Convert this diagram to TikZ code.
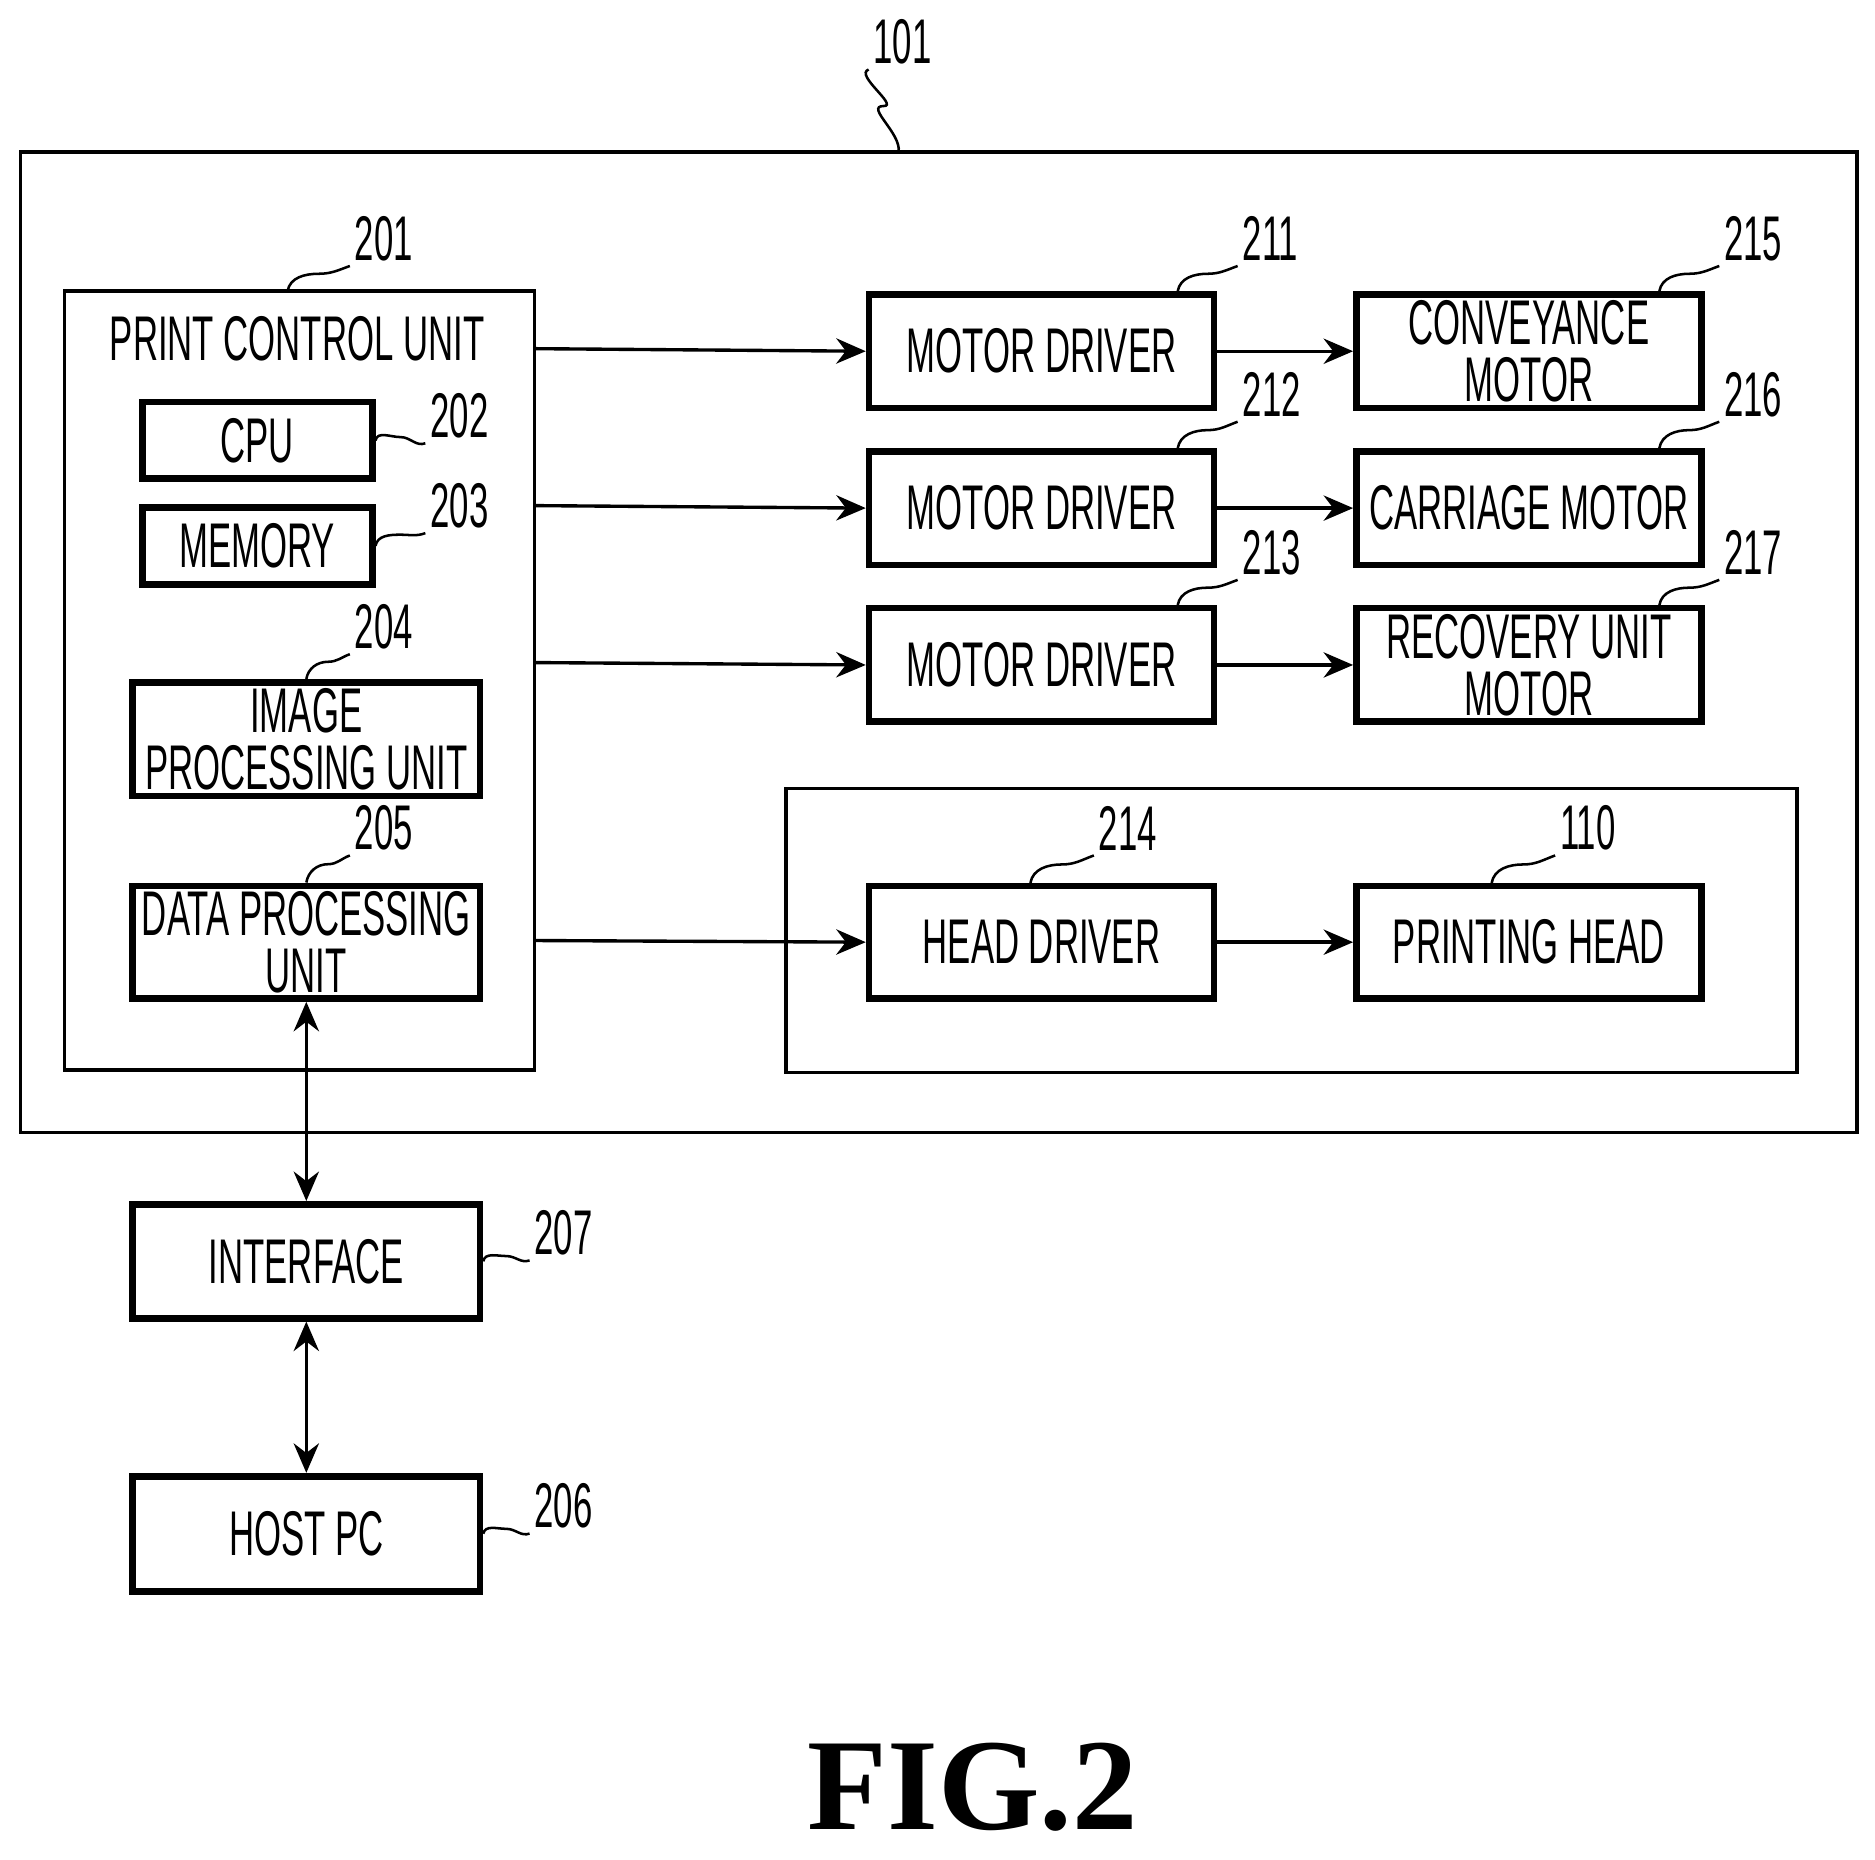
\documentclass[tikz,border=0pt]{standalone}
\usepackage{fontspec}
\setmainfont{Liberation Sans}[FakeStretch=0.55]
\newfontfamily\figfont{Liberation Serif}
\usetikzlibrary{arrows.meta,positioning,calc}
\tikzset{
    unit/.style = {
        draw, line width=1.6pt, align=center, inner sep=0pt,
        font=\fontsize{15}{13.5}\selectfont,
        },
    frame/.style = {
        draw, line width=0.8pt,
        },
    link/.style = {
        -{Stealth[length=7pt,width=6pt]}, line width=0.8pt,
        },
    both/.style = {
        {Stealth[length=7pt,width=6pt]}-{Stealth[length=7pt,width=6pt]}, line width=0.8pt,
        },
    refnum/.style = {
        font=\fontsize{15}{15}\selectfont, anchor=south west, inner sep=1pt,
        },
}
% box from upper-left corner and size, in pixels of the reference
\newcommand{\unitbox}[6]{%
    \node [unit, minimum width=#4*0.01cm, minimum height=#5*0.01cm, anchor=north west]
        (#1) at (#2*0.01,-#3*0.01) {#6};}
% wavy leader from a point to a reference number
\newcommand{\leader}[3]{%
    \coordinate (a#3) at #1;
    \node [refnum] (n#3) at #2 {#3};
    \draw [line width=0.6pt] (a#3) to[out=80,in=180] ($(a#3)!0.5!(n#3.south west)+(0,0.04)$)
        to[out=0,in=200] (n#3.south west);}
\begin{document}
\begin{tikzpicture}
    \useasboundingbox (0,0) rectangle (15.65,-15.52);

    \draw [frame] (0.17,-1.27) rectangle (15.50,-9.45);
    \draw [frame] (0.54,-2.43) rectangle (4.46,-8.93);
    \draw [frame] (6.56,-6.58) rectangle (15.00,-8.95);
    \node [unit, draw=none] (title) at (2.48,-2.83) {PRINT CONTROL UNIT};

    \unitbox{cpu}{116}{333}{192}{64}{CPU}
    \unitbox{mem}{116}{421}{192}{64}{MEMORY}
    \unitbox{img}{108}{567}{290}{95}{IMAGE\\PROCESSING UNIT}
    \unitbox{data}{108}{737}{290}{94}{DATA PROCESSING\\UNIT}

    \unitbox{md1}{723}{243}{288}{95}{MOTOR DRIVER}
    \unitbox{md2}{723}{374}{288}{95}{MOTOR DRIVER}
    \unitbox{md3}{723}{505}{288}{95}{MOTOR DRIVER}
    \unitbox{conv}{1130}{243}{288}{95}{CONVEYANCE\\MOTOR}
    \unitbox{carr}{1130}{374}{288}{95}{CARRIAGE MOTOR}
    \unitbox{recv}{1130}{505}{288}{95}{RECOVERY UNIT\\MOTOR}
    \unitbox{hd}{723}{737}{288}{94}{HEAD DRIVER}
    \unitbox{ph}{1130}{737}{288}{94}{PRINTING HEAD}

    \unitbox{intf}{108}{1003}{290}{95}{INTERFACE}
    \unitbox{host}{108}{1230}{290}{96}{HOST PC}

    % connectors
    \draw [link] (4.46,-2.91) -- (md1.west);
    \draw [link] (4.46,-4.22) -- (md2.west);
    \draw [link] (4.46,-5.53) -- (md3.west);
    \draw [link] (4.46,-7.85) -- (hd.west);
    \draw [link] (md1) -- (conv);
    \draw [link] (md2) -- (carr);
    \draw [link] (md3) -- (recv);
    \draw [link] (hd) -- (ph);
    \draw [both] (data.south) -- (intf.north);
    \draw [both] (intf.south) -- (host.north);

    % reference numbers
    \leader{(7.50,-1.27)}{(7.25,-0.58)}{101}
    \leader{(2.40,-2.43)}{(2.92,-2.22)}{201}
    \leader{(cpu.east)}{(3.55,-3.70)}{202}
    \leader{(mem.east)}{(3.55,-4.45)}{203}
    \leader{(img.north)}{(2.92,-5.46)}{204}
    \leader{(data.north)}{(2.92,-7.14)}{205}
    \leader{(9.83,-2.43)}{(10.33,-2.22)}{211}
    \leader{(9.83,-3.74)}{(10.33,-3.52)}{212}
    \leader{(9.83,-5.05)}{(10.33,-4.84)}{213}
    \leader{(13.85,-2.43)}{(14.35,-2.22)}{215}
    \leader{(13.85,-3.74)}{(14.35,-3.52)}{216}
    \leader{(13.85,-5.05)}{(14.35,-4.84)}{217}
    \leader{(8.60,-7.37)}{(9.13,-7.14)}{214}
    \leader{(12.45,-7.37)}{(12.98,-7.14)}{110}
    \leader{(intf.east)}{(4.42,-10.52)}{207}
    \leader{(host.east)}{(4.42,-12.80)}{206}

    \node [font=\figfont\bfseries\fontsize{31}{31}\selectfont] (fig) at (8.12,-14.92) {FIG.2};
\end{tikzpicture}
\end{document}
